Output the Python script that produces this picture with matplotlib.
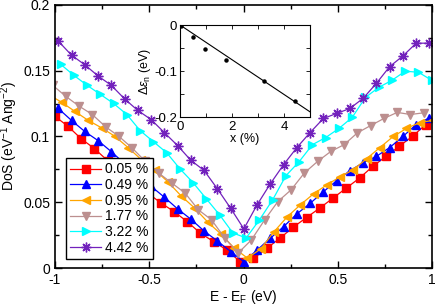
import numpy as np
import matplotlib
matplotlib.use("Agg")
import matplotlib.pyplot as plt
from matplotlib.ticker import MultipleLocator

plt.rcParams['font.family'] = ['Liberation Sans', 'DejaVu Sans']
plt.rcParams['mathtext.fontset'] = 'custom'
plt.rcParams['mathtext.rm'] = 'Liberation Sans'
plt.rcParams['mathtext.it'] = 'Liberation Sans:italic'

dE = 0.0703

# each doping level has its own energy grid (shifted Fermi level)
e0_005 = -1.0016
e0_049 = -0.9824
e0_095 = -1.034
e0_177 = -1.0128
e0_322 = -0.9702
e0_442 = -0.9824

dos_005 = [0.1155, 0.1078, 0.0983, 0.0908, 0.0816, 0.074, 0.0656, 0.0572, 0.0496, 0.043,
           0.0353, 0.0265, 0.0201, 0.0137, 0.0048, 0.0074, 0.015, 0.0227, 0.0311, 0.0384,
           0.0456, 0.0532, 0.0608, 0.0684, 0.0773, 0.0849, 0.0926, 0.1002, 0.1091, 0.1155]
dos_049 = [0.1213, 0.1122, 0.1038, 0.0969, 0.0885, 0.0794, 0.071, 0.0622, 0.0539, 0.045,
           0.0372, 0.0282, 0.0206, 0.0126, 0.0048, 0.0137, 0.0227, 0.0315, 0.0412, 0.0492,
           0.058, 0.0664, 0.074, 0.0801, 0.0849, 0.0916, 0.1, 0.1091, 0.1142]
dos_095 = [0.132, 0.1259, 0.119, 0.1122, 0.1066, 0.1002, 0.0916, 0.0824, 0.0748, 0.0656,
           0.0549, 0.0458, 0.0351, 0.0259, 0.0153, 0.0076, 0.0145, 0.0275, 0.0389, 0.0481,
           0.0565, 0.0633, 0.0694, 0.0748, 0.0832, 0.0916, 0.1, 0.1061, 0.1106, 0.1122]
dos_177 = [0.139, 0.1305, 0.1231, 0.1167, 0.1074, 0.1002, 0.0913, 0.0811, 0.0723, 0.0646,
           0.057, 0.0443, 0.0366, 0.0227, 0.0114, 0.0214, 0.0366, 0.0506, 0.0595, 0.0723,
           0.0811, 0.0887, 0.0938, 0.1028, 0.1083, 0.1137, 0.1183, 0.1167, 0.118]
dos_322 = [0.1549, 0.1465, 0.1389, 0.132, 0.1251, 0.1167, 0.1045, 0.0961, 0.0877, 0.0755,
           0.0649, 0.0526, 0.0404, 0.0267, 0.0229, 0.0366, 0.0519, 0.0702, 0.0809, 0.0938,
           0.0992, 0.1061, 0.1145, 0.1297, 0.1373, 0.1427, 0.1496, 0.1488, 0.1427]
dos_442 = [0.1725, 0.1618, 0.1545, 0.146, 0.1389, 0.1286, 0.1198, 0.1129, 0.103, 0.0931,
           0.0819, 0.0742, 0.0603, 0.0455, 0.0298, 0.0481, 0.0641, 0.0786, 0.0916, 0.103,
           0.1137, 0.1175, 0.1213, 0.129, 0.1404, 0.1531, 0.1612, 0.1709, 0.1709]

labels = ["0.05 %", "0.49 %", "0.95 %", "1.77 %", "3.22 %", "4.42 %"]
colors = ["#ff0000", "#0000ff", "#ffa500", "#bc8f8f", "#00ffff", "#7221bc"]
markers = ["s", "^", "<", "v", ">", (8, 2, 0)]

# inset: Fermi level shift vs doping
x_pct = [0.05, 0.49, 0.95, 1.77, 3.22, 4.42]
shift = [-0.002, -0.0267, -0.052, -0.0768, -0.122, -0.1646]
fit_x = [0.0, 5.0]
fit_y = [0.0, -0.1885]

fig = plt.figure(figsize=(4.36, 3.05), dpi=100)
ax = fig.add_axes([0.126, 0.121, 0.865, 0.863])

series = [(e0_005, dos_005), (e0_049, dos_049), (e0_095, dos_095),
          (e0_177, dos_177), (e0_322, dos_322), (e0_442, dos_442)]
for (e0, d), lab, c, m in zip(series, labels, colors, markers):
    e = e0 + dE * np.arange(len(d))
    if m == (8, 2, 0):
        ax.plot(e, d, color=c, lw=0.9, marker=m, ms=7, mew=1.0, mec=c, label=lab)
    else:
        ax.plot(e, d, color=c, lw=0.9, marker=m, ms=5.2, mec=c, mfc=c, label=lab)

ax.set_xlim(-1, 1)
ax.set_ylim(0, 0.2)
ax.xaxis.set_major_locator(MultipleLocator(0.5))
ax.xaxis.set_minor_locator(MultipleLocator(0.25))
ax.yaxis.set_major_locator(MultipleLocator(0.05))
ax.yaxis.set_minor_locator(MultipleLocator(0.025))
ax.xaxis.set_major_formatter(plt.FuncFormatter(lambda v, p: "%g" % v))
ax.yaxis.set_major_formatter(plt.FuncFormatter(lambda v, p: "%g" % v))
ax.tick_params(which="both", direction="in", top=True, right=True, labelsize=10, width=1)
ax.tick_params(which="major", length=5)
ax.tick_params(which="minor", length=3)
for s in ax.spines.values():
    s.set_linewidth(1.2)
ax.set_xlabel("E - E$_\\mathregular{F}$ (eV)", fontsize=10, labelpad=1)
ax.set_ylabel("DoS (eV$^{\\mathregular{-1}}$ Ang$^{\\mathregular{-2}}$)", fontsize=10, labelpad=2)

leg = ax.legend(loc="lower left", bbox_to_anchor=(0.03, 0.035), fontsize=10,
                frameon=True, fancybox=False, edgecolor="black", framealpha=1,
                handlelength=2.2, handletextpad=0.3, borderpad=0.3, labelspacing=0.12,
                borderaxespad=0)
leg.get_frame().set_linewidth(1.0)

ins = fig.add_axes([0.413, 0.616, 0.298, 0.302])
ins.plot(fit_x, fit_y, color="black", lw=0.8)
ins.plot(x_pct, shift, "o", color="black", ms=2.2)
ins.set_xlim(0, 5)
ins.set_ylim(-0.2, 0)
ins.xaxis.set_major_locator(MultipleLocator(2))
ins.xaxis.set_minor_locator(MultipleLocator(1))
ins.yaxis.set_major_locator(MultipleLocator(0.1))
ins.yaxis.set_minor_locator(MultipleLocator(0.05))
ins.xaxis.set_major_formatter(plt.FuncFormatter(lambda v, p: "%g" % v))
ins.yaxis.set_major_formatter(plt.FuncFormatter(lambda v, p: "%g" % v))
ins.tick_params(which="both", direction="in", top=True, right=True, labelsize=9.5, width=0.6)
ins.tick_params(axis="x", pad=3)
ins.tick_params(axis="y", pad=2)
ins.tick_params(which="major", length=3)
ins.tick_params(which="minor", length=3)
for s in ins.spines.values():
    s.set_linewidth(0.8)
ins.set_xlabel("x (%)", fontsize=9, labelpad=0)
ins.set_ylabel("$\\Delta\\epsilon_\\mathregular{n}$ (eV)", fontsize=9, labelpad=1)

fig.savefig("out.png", dpi=100)
